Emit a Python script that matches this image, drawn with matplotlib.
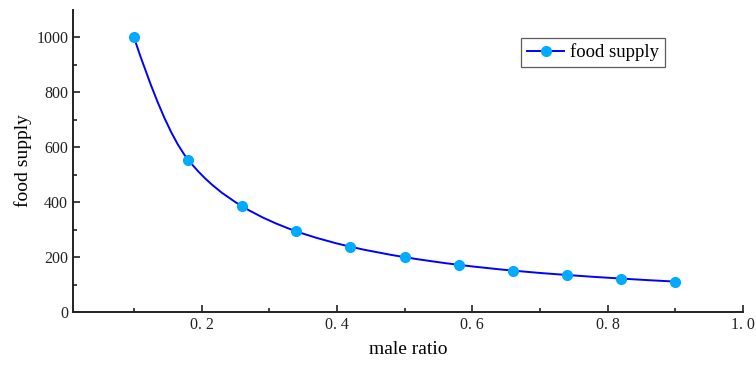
import matplotlib
matplotlib.use('Agg')
import matplotlib.pyplot as plt
from matplotlib.path import Path
from matplotlib.patches import PathPatch
from matplotlib.lines import Line2D
import numpy as np

# values
male_ratio = [0.10, 0.18, 0.26, 0.34, 0.42, 0.50, 0.58, 0.66, 0.74, 0.82, 0.90]
food_supply = [1000, 555, 385, 294, 238, 200, 172, 151, 135, 122, 111]
x_ticks = [0.2, 0.4, 0.6, 0.8, 1.0]
x_tick_labels = ["0. 2", "0. 4", "0. 6", "0. 8", "1. 0"]
y_ticks = [0, 200, 400, 600, 800, 1000]

plt.rcParams['font.family'] = ['Liberation Serif', 'DejaVu Serif']

fig = plt.figure(figsize=(7.56, 3.65), dpi=100)
ax = fig.add_axes([0.0966, 0.145, 0.886, 0.828])

# smooth monotone curve through the points (pchip-style tangents, Bezier segments)
x = np.array(male_ratio, dtype=float)
y = np.array(food_supply, dtype=float)
h = np.diff(x)
d = np.diff(y) / h
m = np.zeros_like(y)
for i in range(1, len(x) - 1):
    if d[i - 1] * d[i] > 0:
        w1 = 2 * h[i] + h[i - 1]
        w2 = h[i] + 2 * h[i - 1]
        m[i] = (w1 + w2) / (w1 / d[i - 1] + w2 / d[i])
m[0] = ((2 * h[0] + h[1]) * d[0] - h[0] * d[1]) / (h[0] + h[1])
m[-1] = ((2 * h[-1] + h[-2]) * d[-1] - h[-1] * d[-2]) / (h[-1] + h[-2])

verts = [(x[0], y[0])]
codes = [Path.MOVETO]
for i in range(len(x) - 1):
    verts += [(x[i] + h[i] / 3, y[i] + m[i] * h[i] / 3),
              (x[i + 1] - h[i] / 3, y[i + 1] - m[i + 1] * h[i] / 3),
              (x[i + 1], y[i + 1])]
    codes += [Path.CURVE4] * 3
curve = PathPatch(Path(verts, codes), facecolor='none', edgecolor='#0000ff', lw=1.4, zorder=2)
ax.add_patch(curve)

ax.plot(male_ratio, food_supply, linestyle='none', marker='o', markersize=7,
        color='#00aaff', zorder=3)

handle = Line2D([], [], color='#0000ff', lw=1.4, marker='o', markersize=7,
                markerfacecolor='#00aaff', markeredgecolor='#00aaff')
leg = ax.legend([handle], ['food supply'], loc='upper left', bbox_to_anchor=(0.669, 0.907),
                borderaxespad=0, fontsize=13.5, frameon=True, fancybox=False,
                edgecolor='#333333', handlelength=2.0, borderpad=0.3, handletextpad=0.3)
leg.get_frame().set_linewidth(0.9)

ax.set_xlim(0.01, 1.0)
ax.set_ylim(0, 1100)
ax.set_xticks(x_ticks)
ax.set_xticklabels(x_tick_labels)
ax.set_xticks([0.1, 0.3, 0.5, 0.7, 0.9], minor=True)
ax.set_yticks(y_ticks)
ax.set_yticks([100, 300, 500, 700, 900], minor=True)
ax.tick_params(which='both', direction='in', labelsize=11.5, colors='#222222', width=1.2)
ax.tick_params(which='major', length=5)
ax.tick_params(which='minor', length=3)

for side in ['top', 'right']:
    ax.spines[side].set_visible(False)
for side in ['left', 'bottom']:
    ax.spines[side].set_linewidth(1.4)
    ax.spines[side].set_color('#222222')

ax.set_xlabel('male ratio', fontsize=14, labelpad=6)
ax.set_ylabel('food supply', fontsize=14, labelpad=3)

plt.savefig('out.png', dpi=100)
